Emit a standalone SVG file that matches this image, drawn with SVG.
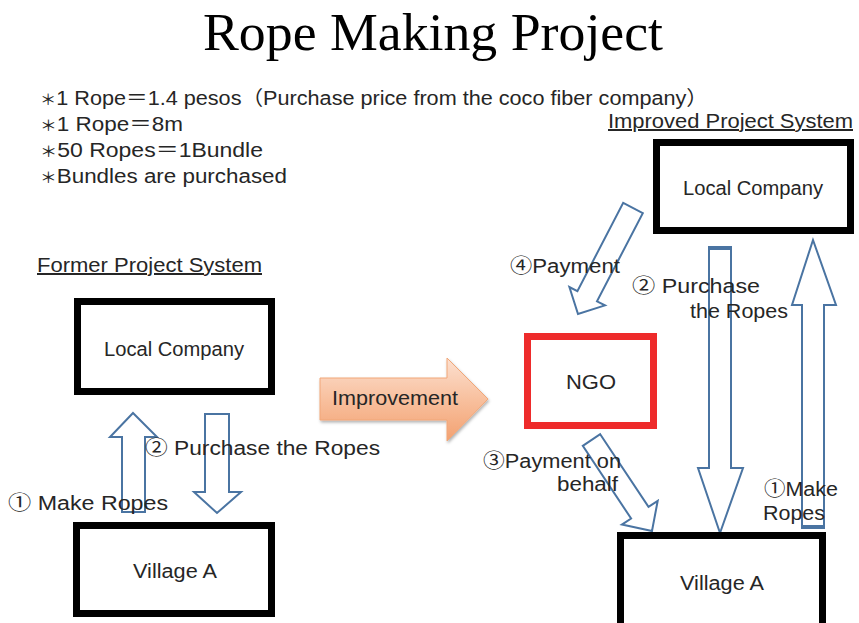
<svg xmlns="http://www.w3.org/2000/svg" width="859" height="623" viewBox="0 0 859 623">
<defs>
<style>
.t{font-family:"Liberation Sans","Noto Sans CJK JP",sans-serif;font-size:20px;fill:#262626}
.c{text-anchor:middle}
.s{font-size:15px}
.box{fill:#fff;stroke:#000;stroke-width:7}
.arr{fill:#fff;stroke:#4a74a2;stroke-width:2;stroke-linejoin:miter}
</style>
<linearGradient id="og" x1="0" y1="0" x2="0" y2="1">
<stop offset="0" stop-color="#fce0d0"/>
<stop offset="0.5" stop-color="#f8c09e"/>
<stop offset="1" stop-color="#f3a171"/>
</linearGradient>
<filter id="sh" x="-10%" y="-10%" width="130%" height="140%">
<feDropShadow dx="1" dy="2" stdDeviation="1.5" flood-color="#000" flood-opacity="0.3"/>
</filter>
</defs>
<rect width="859" height="623" fill="#fff"/>

<text x="433" y="50" text-anchor="middle" font-family="'Liberation Serif',serif" font-size="53" fill="#000" textLength="460" lengthAdjust="spacingAndGlyphs">Rope Making Project</text>

<g id="notes">
<text class="t" x="40" y="105" textLength="668" lengthAdjust="spacingAndGlyphs"><tspan class="s">＊</tspan>1 Rope＝1.4 pesos（Purchase price from the coco fiber company）</text>
<text class="t" x="40" y="131" textLength="143" lengthAdjust="spacingAndGlyphs"><tspan class="s">＊</tspan>1 Rope＝8m</text>
<text class="t" x="40" y="157" textLength="223" lengthAdjust="spacingAndGlyphs"><tspan class="s">＊</tspan>50 Ropes＝1Bundle</text>
<text class="t" x="40" y="183" textLength="247" lengthAdjust="spacingAndGlyphs"><tspan class="s">＊</tspan>Bundles are purchased</text>
<text class="t" x="37" y="272" textLength="225" lengthAdjust="spacingAndGlyphs" text-decoration="underline">Former Project System</text>
<text class="t" x="608" y="128" textLength="245" lengthAdjust="spacingAndGlyphs" text-decoration="underline">Improved Project System</text>
</g>

<g id="connectors">
<polygon class="arr" points="133,413 157,437 145,437 145,512 122,512 122,437 110,437"/>
<polygon class="arr" points="205,414 229,414 229,492 241,492 217,513 194,492 205,492"/>
<polygon class="arr" points="709,247 731,247 731,468 743,468 720,533 698,468 709,468"/>
<polygon class="arr" points="813,240 836,305 824,305 824,528 802,528 802,305 792,305"/>
<line x1="709" y1="248" x2="731" y2="248" stroke="#4a74a2" stroke-width="4"/>
<line x1="802" y1="527" x2="824" y2="527" stroke="#4a74a2" stroke-width="4"/>
<polygon class="arr" points="623.2,202.9 642.8,213.1 597,301.3 605,305.4 578,314 569.4,287 577.4,291.1"/>
<polygon class="arr" points="600.2,434.2 648.5,506.9 657.7,500.8 652,531 621.9,524.6 631.1,518.5 582.8,445.8"/>
<g id="improvement">
<polygon points="320,378 447,378 447,358 488,399 447,441 447,420 320,420" fill="url(#og)" stroke="#f1a678" stroke-width="1" filter="url(#sh)"/>
<text class="t" x="332" y="405" textLength="126" lengthAdjust="spacingAndGlyphs">Improvement</text>
</g>
</g>

<g id="labels">
<text class="t" x="145" y="455" textLength="235" lengthAdjust="spacingAndGlyphs">② Purchase the Ropes</text>
<text class="t" x="8" y="510" textLength="160" lengthAdjust="spacingAndGlyphs">① Make Ropes</text>
<text class="t" x="510" y="273" textLength="110" lengthAdjust="spacingAndGlyphs">④Payment</text>
<text class="t" x="632" y="293" textLength="128" lengthAdjust="spacingAndGlyphs">② Purchase</text>
<text class="t" x="690" y="318" textLength="98" lengthAdjust="spacingAndGlyphs">the Ropes</text>
<text class="t" x="483" y="468" textLength="138" lengthAdjust="spacingAndGlyphs">③Payment on</text>
<text class="t" x="557" y="491" textLength="61" lengthAdjust="spacingAndGlyphs">behalf</text>
<text class="t" x="764" y="496" textLength="74" lengthAdjust="spacingAndGlyphs">①Make</text>
<text class="t" x="763" y="520" textLength="62" lengthAdjust="spacingAndGlyphs">Ropes</text>
</g>

<g id="local-company-former">
<rect class="box" x="77.5" y="301.5" width="194" height="90"/>
<text class="t c" x="174" y="356" textLength="140" lengthAdjust="spacingAndGlyphs">Local Company</text>
</g>
<g id="village-a-former">
<rect class="box" x="76.5" y="525.5" width="195" height="88"/>
<text class="t c" x="175" y="578" textLength="84" lengthAdjust="spacingAndGlyphs">Village A</text>
</g>
<g id="local-company-improved">
<rect class="box" x="656.5" y="142.5" width="194" height="88"/>
<text class="t c" x="753" y="195" textLength="140" lengthAdjust="spacingAndGlyphs">Local Company</text>
</g>
<g id="ngo">
<rect x="527.5" y="336.5" width="126" height="89" fill="#fff" stroke="#ee2b2b" stroke-width="7"/>
<text class="t c" x="591" y="389" textLength="50" lengthAdjust="spacingAndGlyphs">NGO</text>
</g>
<g id="village-a-improved">
<rect class="box" x="620.5" y="535.5" width="202" height="100"/>
<text class="t c" x="722" y="590" textLength="84" lengthAdjust="spacingAndGlyphs">Village A</text>
</g>
</svg>
